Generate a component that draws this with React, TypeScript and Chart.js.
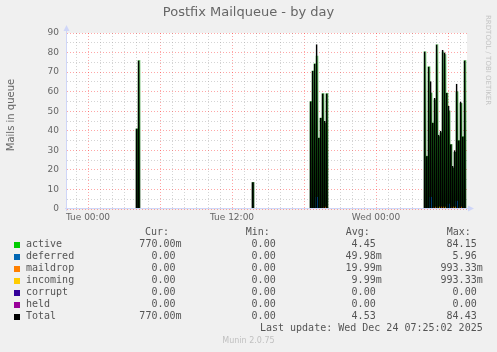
import React, { useEffect, useRef } from 'react';
import { Chart, registerables } from 'chart.js';

Chart.register(...registerables);

// time axis in minutes after Tue 00:00
const xMin = -105;
const xMax = 1895;
const xTickMinutes = [0, 720, 1440];
const xTickLabels = ['Tue 00:00', 'Tue 12:00', 'Wed 00:00'];
const yMax = 90;

const activeTimes = [
  245, 255,
  825,
  1115, 1125, 1135, 1145, 1155, 1165, 1175, 1185, 1195,
  1685, 1695, 1705, 1715, 1725, 1735, 1745, 1755, 1765, 1775, 1785,
  1795, 1805, 1815, 1825, 1835, 1845, 1855, 1865, 1875, 1885,
];
const activeValues = [
  41, 76,
  13.6,
  55, 70.6, 74.3, 78.2, 36.3, 46.5, 59, 44, 59,
  80.5, 27, 72.8, 59.3, 44, 55.8, 84.15, 37, 39, 80.3, 79,
  59.3, 50.2, 33, 21, 29, 60, 35, 54, 37, 76,
];
const deferredTimes = [1145, 1715, 1805, 1845];
const deferredValues = [6, 6, 2.5, 4];
const maildropTimes = [1185, 1735, 1765, 1775, 1825, 1865];
const maildropValues = [1, 1, 1, 1, 1, 1];
const incomingTimes = [1755, 1785, 1835];
const incomingValues = [1, 1, 1];
const corruptTimes: number[] = [];
const corruptValues: number[] = [];
const heldTimes: number[] = [];
const heldValues: number[] = [];

const seriesNames = ['active', 'deferred', 'maildrop', 'incoming', 'corrupt', 'held', 'Total'];
const seriesColors = ['#00cc00', '#0066b3', '#ff8000', '#ffcc00', '#330099', '#990099', '#000000'];
const curValues = [0.77, 0, 0, 0, 0, 0, 0.77];
const minValues = [0, 0, 0, 0, 0, 0, 0];
const avgValues = [4.45, 0.04998, 0.01999, 0.00999, 0, 0, 4.53];
const maxValues = [84.15, 5.96, 0.99333, 0.99333, 0, 0, 84.43];
const lastUpdate = 'Last update: Wed Dec 24 07:25:02 2025';

const pts = (t: number[], v: number[]) => t.map((x, i) => ({ x, y: v[i] }));

function totalPoints() {
  const m = new Map<number, number>();
  const add = (t: number[], v: number[]) => t.forEach((x, i) => m.set(x, (m.get(x) || 0) + v[i]));
  add(activeTimes, activeValues);
  add(deferredTimes, deferredValues);
  add(maildropTimes, maildropValues);
  add(incomingTimes, incomingValues);
  add(corruptTimes, corruptValues);
  add(heldTimes, heldValues);
  return Array.from(m.entries()).sort((a, b) => a[0] - b[0]).map(([x, y]) => ({ x, y }));
}

function fmt(v: number) {
  if (v === 0) return '0.00 ';
  if (v < 1) return (v * 1000).toFixed(2) + 'm';
  return v.toFixed(2) + ' ';
}

const FONT = "'DejaVu Sans', sans-serif";
const MONO = "'DejaVu Sans Mono', monospace";

let gradCache: { key: string; g: CanvasGradient } | null = null;
function greenFill(ctx: any) {
  const chart = ctx.chart;
  const a = chart.chartArea;
  if (!a) return '#00cc00';
  const key = `${a.top}-${a.bottom}`;
  if (!gradCache || gradCache.key !== key) {
    const g = chart.ctx.createLinearGradient(0, a.bottom, 0, a.top);
    g.addColorStop(0, '#063006');
    g.addColorStop(0.45, '#1f7a1f');
    g.addColorStop(0.8, '#5cbc5c');
    g.addColorStop(1, '#b0e0b0');
    gradCache = { key, g };
  }
  return gradCache.g;
}

const muninPlugin = {
  id: 'munin',
  beforeDraw(chart: any) {
    const { ctx, chartArea: a } = chart;
    ctx.save();
    ctx.fillStyle = '#f0f0f0';
    ctx.fillRect(0, 0, chart.width, chart.height);
    ctx.fillStyle = '#ffffff';
    ctx.fillRect(a.left, a.top, a.right - a.left, a.bottom - a.top);
    ctx.restore();
  },
  afterDraw(chart: any) {
    const { ctx, chartArea: a } = chart;
    ctx.save();
    // axes with arrows
    ctx.strokeStyle = '#cfd6f8';
    ctx.fillStyle = '#cfd6f8';
    ctx.lineWidth = 1;
    const yb = a.bottom - 0.5;
    const xl = a.left - 0.5;
    ctx.beginPath();
    ctx.moveTo(a.left - 2, yb);
    ctx.lineTo(a.right + 2, yb);
    ctx.moveTo(xl, a.bottom + 2);
    ctx.lineTo(xl, a.top - 2);
    ctx.stroke();
    ctx.beginPath();
    ctx.moveTo(a.right + 1, yb - 3);
    ctx.lineTo(a.right + 7, yb);
    ctx.lineTo(a.right + 1, yb + 3);
    ctx.closePath();
    ctx.fill();
    ctx.beginPath();
    ctx.moveTo(xl - 3, a.top - 2);
    ctx.lineTo(xl, a.top - 8);
    ctx.lineTo(xl + 3, a.top - 2);
    ctx.closePath();
    ctx.fill();

    // title
    ctx.fillStyle = '#666';
    ctx.font = `13px ${FONT}`;
    ctx.textAlign = 'center';
    ctx.textBaseline = 'middle';
    ctx.fillText('Postfix Mailqueue - by day', 248.5, 13);

    // vertical label
    ctx.save();
    ctx.translate(11, 115);
    ctx.rotate(-Math.PI / 2);
    ctx.font = `10px ${FONT}`;
    ctx.fillText('Mails in queue', 0, 0);
    ctx.restore();

    // rrdtool watermark
    ctx.save();
    ctx.translate(488, 15);
    ctx.rotate(Math.PI / 2);
    ctx.font = `7px ${FONT}`;
    ctx.fillStyle = '#c4c4c4';
    ctx.textAlign = 'left';
    ctx.fillText('RRDTOOL / TOBI OETIKER', 0, 0);
    ctx.restore();

    // legend
    ctx.font = `10px ${MONO}`;
    ctx.fillStyle = '#555';
    ctx.textAlign = 'left';
    ctx.textBaseline = 'middle';
    ctx.fillText('Cur:', 145, 232.5);
    ctx.fillText('Min:', 245.7, 232.5);
    ctx.fillText('Avg:', 345.7, 232.5);
    ctx.fillText('Max:', 446.7, 232.5);
    const cols = [181.5, 281.7, 381.7, 482.7];
    seriesNames.forEach((name, i) => {
      const y = 244.7 + 12 * i;
      ctx.fillStyle = seriesColors[i];
      ctx.fillRect(14, y - 2.7, 6, 6);
      ctx.fillStyle = '#555';
      ctx.textAlign = 'left';
      ctx.fillText(name, 26, y);
      ctx.textAlign = 'right';
      [curValues, minValues, avgValues, maxValues].forEach((arr, c) => {
        ctx.fillText(fmt(arr[i]), cols[c], y);
      });
    });
    ctx.textAlign = 'right';
    ctx.fillText(lastUpdate, 482.7, 328.7);

    ctx.font = `8px ${FONT}`;
    ctx.fillStyle = '#c0c0c0';
    ctx.textAlign = 'center';
    ctx.fillText('Munin 2.0.75', 248.5, 341.3);
    ctx.restore();
  },
};

export default function App() {
  const ref = useRef<HTMLCanvasElement>(null);
  useEffect(() => {
    document.body.style.margin = '0';
    const canvas = ref.current!;
    const barBase = { type: 'bar' as const, barThickness: 2, grouped: false, borderWidth: 0 };
    const chart = new Chart(canvas, {
      type: 'bar',
      data: {
        datasets: [
          { ...barBase, label: 'active', data: pts(activeTimes, activeValues), backgroundColor: greenFill, order: 10 },
          { ...barBase, label: 'deferred', data: pts(deferredTimes, deferredValues), backgroundColor: seriesColors[1], order: 6 },
          { ...barBase, label: 'maildrop', data: pts(maildropTimes, maildropValues), backgroundColor: seriesColors[2], order: 5 },
          { ...barBase, label: 'incoming', data: pts(incomingTimes, incomingValues), backgroundColor: seriesColors[3], order: 4 },
          { ...barBase, label: 'corrupt', data: pts(corruptTimes, corruptValues), backgroundColor: seriesColors[4], order: 3 },
          { ...barBase, label: 'held', data: pts(heldTimes, heldValues), backgroundColor: seriesColors[5], order: 2 },
          {
            ...barBase,
            label: 'Total',
            data: totalPoints(),
            backgroundColor: 'rgba(0,0,0,0)',
            borderColor: '#000000',
            borderWidth: { left: 1, right: 0, top: 0, bottom: 0 },
            borderSkipped: false,
            order: 0,
          },
        ] as any,
      },
      options: {
        animation: false,
        responsive: false,
        devicePixelRatio: 1,
        layout: { padding: { left: 0, right: 30, top: 33, bottom: 123 } },
        plugins: { legend: { display: false }, tooltip: { enabled: false }, title: { display: false } },
        scales: {
          x: {
            type: 'linear',
            min: xMin,
            max: xMax,
            offset: false,
            afterBuildTicks: (s: any) => {
              const t = [];
              for (let v = -60; v <= xMax; v += 60) t.push({ value: v });
              s.ticks = t;
            },
            afterFit: (s: any) => { s.height = 20; },
            grid: {
              offset: false,
              color: (c: any) => (c.tick && c.tick.value % 360 === 0 ? 'rgba(255,0,0,0.35)' : 'rgba(160,160,160,0.45)'),
              lineWidth: 1,
              drawTicks: false,
            },
            border: { display: false, dash: [1, 2] },
            ticks: {
              autoSkip: false,
              maxRotation: 0,
              padding: 3,
              color: '#666',
              font: { family: FONT, size: 9 },
              callback: (v: any) => {
                const i = xTickMinutes.indexOf(Number(v));
                return i >= 0 ? xTickLabels[i] : '';
              },
            },
          },
          y: {
            type: 'linear',
            min: 0,
            max: yMax,
            afterBuildTicks: (s: any) => {
              const t = [];
              for (let v = 0; v <= yMax; v += 5) t.push({ value: v });
              s.ticks = t;
            },
            afterFit: (s: any) => { s.width = 67; },
            grid: {
              color: (c: any) => (c.tick && c.tick.value % 10 === 0 ? 'rgba(255,0,0,0.35)' : 'rgba(160,160,160,0.45)'),
              lineWidth: 1,
              drawTicks: false,
            },
            border: { display: false, dash: [1, 2] },
            ticks: {
              autoSkip: false,
              padding: 8,
              color: '#666',
              font: { family: FONT, size: 9 },
              callback: (v: any) => (Number(v) % 10 === 0 ? String(v) : ''),
            },
          },
        },
      } as any,
      plugins: [muninPlugin],
    });
    return () => chart.destroy();
  }, []);
  return <canvas ref={ref} width={497} height={352} style={{ display: 'block' }} />;
}
